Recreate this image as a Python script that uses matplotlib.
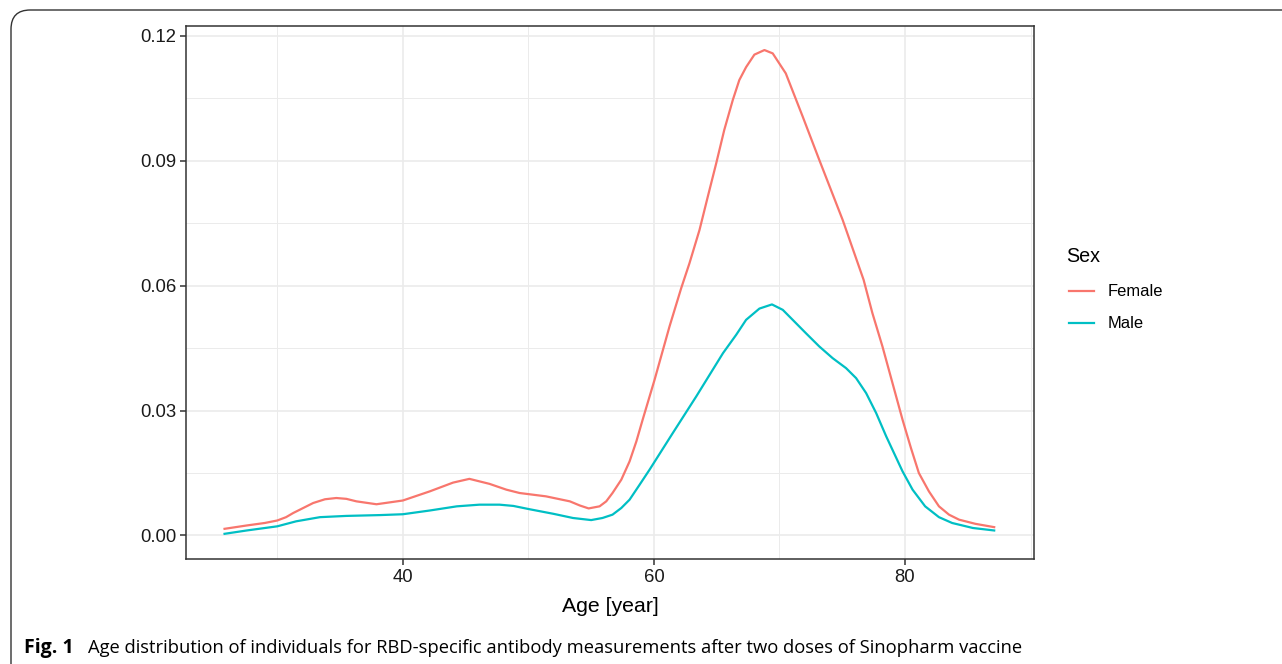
import matplotlib
matplotlib.use("Agg")
import matplotlib.pyplot as plt
from matplotlib.lines import Line2D
from matplotlib.patches import FancyBboxPatch
from matplotlib.ticker import FixedLocator

# ---- data ----
female_age = [25.8, 27.56, 29.0, 30.0, 30.7, 31.27, 32.86, 33.8, 34.7, 35.5, 36.3, 37.9,
              40.0, 42.15, 44.0, 45.3, 46.9, 48.25, 49.3, 51.4, 53.3, 54.1, 54.8, 55.67,
              56.2, 56.7, 57.4, 58.06, 58.6, 59.1, 60.05, 61.24, 62.17, 62.83, 63.63,
              64.29, 64.96, 65.6, 66.28, 66.8, 67.34, 68.0, 68.8, 69.46, 70.5, 71.85,
              73.17, 75.03, 76.7, 77.4, 78.2, 79.0, 79.8, 80.47, 81.1, 81.9, 82.7, 83.5,
              84.3, 85.6, 87.1]
female_density = [0.0016, 0.0024, 0.0030, 0.0036, 0.0044, 0.0054, 0.0078, 0.0087, 0.0090,
                  0.0088, 0.0082, 0.0075, 0.0084, 0.0106, 0.0127, 0.0136, 0.0124, 0.0110,
                  0.0102, 0.0094, 0.0082, 0.0072, 0.0065, 0.0070, 0.0082, 0.0102, 0.0134,
                  0.0178, 0.0226, 0.0278, 0.0374, 0.0502, 0.0594, 0.0654, 0.0734, 0.0814,
                  0.0894, 0.0974, 0.1046, 0.1094, 0.1125, 0.1155, 0.1166, 0.1158, 0.1110,
                  0.1006, 0.0902, 0.0758, 0.0614, 0.0534, 0.0454, 0.0366, 0.0278, 0.0210,
                  0.0150, 0.0106, 0.0070, 0.0050, 0.0038, 0.0028, 0.0020]

male_age = [25.8, 27.56, 30.0, 31.5, 33.4, 35.5, 38.2, 40.0, 42.15, 44.3, 46.1, 47.7, 48.8,
            50.1, 52.0, 53.55, 55.0, 55.9, 56.7, 57.4, 58.06, 58.86, 59.65, 61.5, 63.37,
            65.5, 66.55, 67.34, 68.4, 69.4, 70.26, 71.05, 72.1, 73.17, 74.23, 75.3, 76.1,
            76.9, 77.7, 78.5, 79.8, 80.6, 81.6, 82.7, 83.75, 85.4, 87.1]
male_density = [0.0004, 0.0012, 0.0022, 0.0034, 0.0044, 0.0047, 0.0049, 0.0051, 0.0060,
                0.0070, 0.0074, 0.0074, 0.0071, 0.0063, 0.0052, 0.0042, 0.0037, 0.0042,
                0.0050, 0.0066, 0.0086, 0.0122, 0.0158, 0.0246, 0.0334, 0.0438, 0.0482,
                0.0518, 0.0545, 0.0555, 0.0542, 0.0518, 0.0486, 0.0454, 0.0426, 0.0402,
                0.0378, 0.0342, 0.0294, 0.0238, 0.0154, 0.0110, 0.0070, 0.0044, 0.0030,
                0.0018, 0.0012]

x_ticks = [40, 60, 80]
y_ticks = [0.00, 0.03, 0.06, 0.09, 0.12]
y_tick_labels = ["0.00", "0.03", "0.06", "0.09", "0.12"]
series_names = ["Female", "Male"]
colors = ["#F8766D", "#00BFC4"]

W, H = 1282, 664
fig = plt.figure(figsize=(W / 100, H / 100), dpi=100)
fig.patch.set_facecolor("white")

def fx(px):
    return px / W

def fy(py):
    return 1 - py / H

left, right, top, bottom = 186, 1034, 25.7, 559
ax = fig.add_axes([fx(left), fy(bottom), (right - left) / W, (bottom - top) / H])

ax.plot(female_age, female_density, color=colors[0], lw=1.6, solid_joinstyle="round")
ax.plot(male_age, male_density, color=colors[1], lw=1.6, solid_joinstyle="round")

ax.set_xlim(22.73, 90.27)
ax.set_ylim(-0.00565, 0.12245)
ax.xaxis.set_major_locator(FixedLocator(x_ticks))
ax.xaxis.set_minor_locator(FixedLocator([30, 50, 70, 90]))
ax.yaxis.set_major_locator(FixedLocator(y_ticks))
ax.yaxis.set_minor_locator(FixedLocator([0.015, 0.045, 0.075, 0.105]))
ax.set_yticklabels(y_tick_labels)

ax.grid(which="major", color="#EBEBEB", lw=1.2)
ax.grid(which="minor", color="#EBEBEB", lw=0.7)
ax.set_axisbelow(True)
for s in ax.spines.values():
    s.set_color("#333333")
    s.set_linewidth(1.1)
ax.tick_params(which="major", direction="out", length=4, width=1.1, color="#333333",
               labelsize=13.3, labelcolor="#1a1a1a", pad=3)
ax.tick_params(which="minor", length=0)
for lab in ax.get_xticklabels() + ax.get_yticklabels():
    lab.set_family("Liberation Sans")

ax.set_xlabel("Age [year]", family="Liberation Sans", fontsize=15.3, labelpad=8)

# legend (ggplot style, placed at the right)
fig.text(fx(1066), fy(257), "Sex", family="Liberation Sans", fontsize=14.2,
         va="center", ha="left")
for i, (name, c) in enumerate(zip(series_names, colors)):
    yy = 291 + i * 32.5
    fig.add_artist(Line2D([fx(1069), fx(1094)], [fy(yy), fy(yy)], color=c, lw=1.6,
                          transform=fig.transFigure))
    fig.text(fx(1108), fy(yy), name, family="Liberation Sans", fontsize=11.9,
             va="center", ha="left")

# outer rounded frame
frame = FancyBboxPatch((fx(11), fy(720)), fx(1400) - fx(11), fy(10) - fy(720),
                       boxstyle="round,pad=0,rounding_size=0.015",
                       transform=fig.transFigure, fill=False, ec="#333333", lw=1.0,
                       mutation_aspect=W / H)
fig.add_artist(frame)

# caption
fig.text(fx(24), fy(648), "Fig. 1", family="Open Sans", fontweight="bold",
         fontsize=14, va="center", ha="left")
fig.text(fx(88), fy(648),
         "Age distribution of individuals for RBD-specific antibody measurements after two doses of Sinopharm vaccine",
         family="Open Sans", fontsize=13.2, va="center", ha="left")

fig.savefig("out.png", dpi=100)
